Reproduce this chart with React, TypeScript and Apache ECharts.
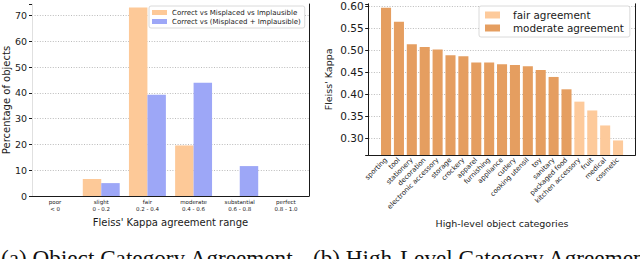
import React, { useEffect, useRef } from 'react';
import * as echarts from 'echarts';

// ---- Left panel: Fleiss' Kappa agreement ranges ----
const rangeCategories = [
  'poor\n< 0',
  'slight\n0 - 0.2',
  'fair\n0.2 - 0.4',
  'moderate\n0.4 - 0.6',
  'substantial\n0.6 - 0.8',
  'perfect\n0.8 - 1.0',
];
const threeWayPct = [0, 6.6, 73.1, 19.6, 0, 0];
const twoWayPct = [0, 5.0, 39.3, 43.9, 11.6, 0];
const leftSeriesNames = ['Correct vs Misplaced vs Implausible', 'Correct vs (Misplaced + Implausible)'];
const leftYTicks = [0, 10, 20, 30, 40, 50, 60, 70];

// ---- Right panel: high-level object categories ----
const highLevelCategories = [
  'sporting', 'tool', 'stationery', 'decoration', 'electronic accessory', 'storage',
  'crockery', 'apparel', 'furnishing', 'appliance', 'cutlery', 'cooking utensil', 'toy',
  'sanitary', 'packaged food', 'kitchen accessory', 'fruit', 'medical', 'cosmetic',
];
const kappaValues = [
  0.596, 0.564, 0.513, 0.507, 0.501, 0.488, 0.486, 0.472, 0.472, 0.468, 0.466, 0.463,
  0.455, 0.439, 0.411, 0.383, 0.363, 0.329, 0.295,
];
const agreementNames = ['fair agreement', 'moderate agreement'];
const fairUpperBound = 0.4;

const captions = ['(a) Object Category Agreement', '(b) High-Level Category Agreement'];

const FONT = 'DejaVu Sans';
const DARK = '#1a1a1a';
const GRID_GRAY = '#aaaaaa';
const NO_LINE = 'rgba(0,0,0,0)';
// gridlines: visible at the round ticks, hidden at the axis-extent tick on top
const gridLineStyle = {
  color: [GRID_GRAY, GRID_GRAY, GRID_GRAY, GRID_GRAY, GRID_GRAY, GRID_GRAY, GRID_GRAY, GRID_GRAY, NO_LINE],
  width: 0.8,
  type: [1, 1.6] as number[],
};

const ORANGE_LIGHT = '#FDC998';
const BLUE_LIGHT = '#9DA7F7';
const FAIR = '#FDCA9B';
const MODERATE = '#E59E60';

export default function App() {
  const ref = useRef<HTMLDivElement>(null);

  useEffect(() => {
    if (!ref.current) return;
    const chart = echarts.init(ref.current, null, { renderer: 'svg' });

    const rightMin = 0.262;
    const rightMax = 0.6049;
    const isNice = (v: number) => Math.abs(v / 0.05 - Math.round(v / 0.05)) < 1e-6;

    const option: any = {
      animation: false,
      backgroundColor: '#ffffff',
      textStyle: { fontFamily: FONT },
      grid: [
        { left: 32, top: 4, width: 277, height: 192 },
        { left: 368.7, top: 3.8, width: 266.6, height: 151.2 },
        { left: 379.6, top: 3.8, width: 244.9, height: 151.2 },
      ],
      legend: [
        {
          data: leftSeriesNames,
          orient: 'vertical',
          left: 149,
          top: 6,
          icon: 'rect',
          itemWidth: 15,
          itemHeight: 5,
          itemGap: 2,
          padding: [3, 4, 3, 3],
          borderColor: '#d0d0d0',
          borderWidth: 0.8,
          borderRadius: 2,
          backgroundColor: '#ffffff',
          textStyle: { fontSize: 7, color: DARK, fontFamily: FONT },
        },
        {
          data: agreementNames,
          orient: 'vertical',
          left: 479,
          top: 6,
          icon: 'rect',
          itemWidth: 15,
          itemHeight: 7,
          itemGap: 3,
          padding: [4, 6, 4, 6],
          borderColor: '#d0d0d0',
          borderWidth: 0.8,
          borderRadius: 2,
          backgroundColor: '#ffffff',
          textStyle: { fontSize: 10.4, color: DARK, fontFamily: FONT, padding: [0, 0, 0, 8] },
        },
      ],
      xAxis: [
        {
          gridIndex: 0,
          type: 'category',
          data: rangeCategories,
          axisLine: { lineStyle: { color: DARK, width: 1 } },
          axisTick: { alignWithLabel: true, length: 3, lineStyle: { color: DARK } },
          axisLabel: { fontSize: 5.5, lineHeight: 7.5, color: DARK, margin: 2, interval: 0, fontFamily: FONT },
          name: "Fleiss' Kappa agreement range",
          nameLocation: 'middle',
          nameGap: 21,
          nameTextStyle: { fontSize: 10, color: DARK, fontFamily: FONT },
        },
        {
          gridIndex: 1,
          type: 'value',
          min: 0,
          max: 1,
          axisLine: { show: true, lineStyle: { color: DARK, width: 1 } },
          axisTick: { show: false },
          axisLabel: { show: false },
          splitLine: { show: false },
          name: 'High-level object categories',
          nameLocation: 'middle',
          nameGap: 63,
          nameTextStyle: { fontSize: 9.5, color: DARK, fontFamily: FONT },
        },
        {
          gridIndex: 2,
          type: 'category',
          data: highLevelCategories,
          axisLine: { show: false },
          axisTick: { alignWithLabel: true, length: 3, lineStyle: { color: DARK } },
          axisLabel: { rotate: 45, fontSize: 6.8, color: DARK, margin: 4, interval: 0, fontFamily: FONT },
        },
      ],
      yAxis: [
        {
          gridIndex: 0,
          type: 'value',
          min: 0,
          max: 74.45,
          interval: 10,
          axisLine: { show: true, lineStyle: { color: '#e0e0e0' } },
          axisTick: { show: true, length: 3, lineStyle: { color: DARK } },
          axisLabel: {
            fontSize: 9.5,
            color: DARK,
            margin: 5,
            fontFamily: FONT,
            formatter: (v: number) => (leftYTicks.includes(v) ? String(v) : ''),
          },
          splitLine: { show: true, lineStyle: gridLineStyle },
          name: 'Percentage of objects',
          nameLocation: 'middle',
          nameGap: 19,
          nameTextStyle: { fontSize: 10, color: DARK, fontFamily: FONT },
        },
        {
          gridIndex: 0,
          type: 'value',
          position: 'right',
          min: 0,
          max: 74.45,
          axisLine: { show: true, lineStyle: { color: DARK, width: 1 } },
          axisTick: { show: false },
          axisLabel: { show: false },
          splitLine: { show: false },
        },
        {
          gridIndex: 1,
          type: 'value',
          min: rightMin,
          max: rightMax,
          axisLine: { show: true, lineStyle: { color: DARK, width: 1 } },
          axisTick: { show: true, length: 3.5, lineStyle: { color: DARK } },
          axisLabel: {
            fontSize: 10.5,
            color: DARK,
            margin: 5,
            fontFamily: FONT,
            formatter: (v: number) => (isNice(v) ? v.toFixed(2) : ''),
          },
          splitLine: { show: true, lineStyle: gridLineStyle },
          name: "Fleiss' Kappa",
          nameLocation: 'middle',
          nameGap: 35,
          nameTextStyle: { fontSize: 9.5, color: DARK, fontFamily: FONT },
        },
        {
          gridIndex: 1,
          type: 'value',
          position: 'right',
          min: rightMin,
          max: rightMax,
          axisLine: { show: true, lineStyle: { color: DARK, width: 1 } },
          axisTick: { show: false },
          axisLabel: { show: false },
          splitLine: { show: false },
        },
        {
          gridIndex: 2,
          type: 'value',
          min: rightMin,
          max: rightMax,
          show: false,
          splitLine: { show: false },
        },
      ],
      series: [
        {
          type: 'bar',
          name: leftSeriesNames[0],
          xAxisIndex: 0,
          yAxisIndex: 0,
          data: threeWayPct,
          itemStyle: { color: ORANGE_LIGHT },
          barGap: '0%',
          barCategoryGap: '20%',
        },
        {
          type: 'bar',
          name: leftSeriesNames[1],
          xAxisIndex: 0,
          yAxisIndex: 0,
          data: twoWayPct,
          itemStyle: { color: BLUE_LIGHT },
          barGap: '0%',
          barCategoryGap: '20%',
        },
        {
          type: 'bar',
          name: agreementNames[0],
          xAxisIndex: 2,
          yAxisIndex: 4,
          data: kappaValues.map((v) => (v < fairUpperBound ? v : '-')),
          itemStyle: { color: FAIR },
          barGap: '-100%',
          barCategoryGap: '22%',
        },
        {
          type: 'bar',
          name: agreementNames[1],
          xAxisIndex: 2,
          yAxisIndex: 4,
          data: kappaValues.map((v) => (v >= fairUpperBound ? v : '-')),
          itemStyle: { color: MODERATE },
          barGap: '-100%',
          barCategoryGap: '22%',
        },
      ],
      graphic: [
        {
          type: 'text',
          x: 1,
          y: 258,
          style: {
            text: captions[0],
            fontSize: 23.2,
            fontFamily: 'Liberation Serif',
            fill: '#111111',
            verticalAlign: 'middle',
          },
        },
        {
          type: 'text',
          x: 313,
          y: 258,
          style: {
            text: captions[1],
            fontSize: 23.2,
            fontFamily: 'Liberation Serif',
            fill: '#111111',
            verticalAlign: 'middle',
          },
        },
      ],
    };

    chart.setOption(option);
    return () => chart.dispose();
  }, []);

  return (
    <div
      ref={ref}
      style={{ position: 'fixed', left: 0, top: 0, width: 640, height: 259, background: '#ffffff' }}
    />
  );
}
